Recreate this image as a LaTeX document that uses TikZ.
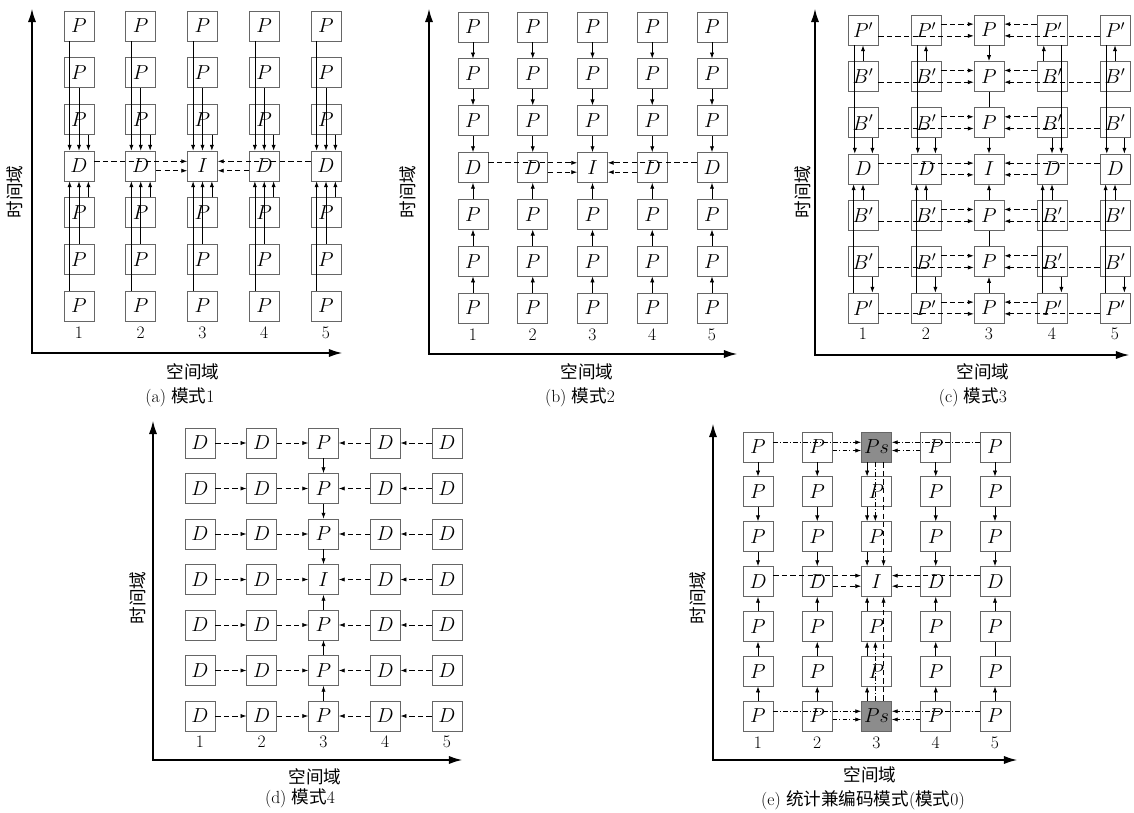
\documentclass[tikz,border=0pt]{standalone}
\usepackage{fontspec}
\newfontfamily\cjk{Noto Sans CJK SC}
\usetikzlibrary{arrows.meta}

\begin{document}
\begin{tikzpicture}[x=0.03cm,y=-0.03cm,>={Latex[length=5pt,width=3.6pt]},
  cell/.style={draw=black!60,line width=0.6pt,minimum size=0.9cm,
    inner sep=0pt,font=\fontsize{16.5}{18}\selectfont},
  psbox/.style={cell,fill=black!45},
  lnk/.style={->,line width=0.6pt},
  dsh/.style={->,line width=0.6pt,dash pattern=on 4.5pt off 2.8pt},
  dsd/.style={->,line width=0.6pt,
    dash pattern=on 4pt off 1.8pt on 0.9pt off 1.8pt},
  axisline/.style={line width=2pt,
    {Latex[length=12pt,width=7pt]}-{Latex[length=12pt,width=7pt]}},
  num/.style={font=\fontsize{15}{17}\selectfont},
  lab/.style={font=\fontsize{15}{17}\selectfont\cjk},
  captext/.style={font=\fontsize{15}{17}\selectfont}]
\useasboundingbox (0,0) rectangle (1134,813);

% (a) mode 1
\coordinate (a-o) at (32,353);
\coordinate (a-x) at (343,353);
\coordinate (a-y) at (32,8);
\draw[axisline] (a-y) -- (a-o) -- (a-x);
\foreach \c in {1,...,5}{
  \pgfmathsetmacro{\xx}{79+61.75*(\c-1)}
  \foreach \r in {1,...,7}{
    \pgfmathsetmacro{\yy}{26+46.67*(\r-1)}
    \node[cell] (a\c\r) at (\xx,\yy)
      {\ifnum\r=4 \ifnum\c=3 $I$\else $D$\fi\else $P$\fi};
  }
  \node[num] (a-n\c) at (\xx,333) {\c};
}
\foreach \c in {1,...,5}{
  \draw[lnk] ([xshift=-8pt]a\c1.south) -- ([xshift=-8pt]a\c4.north);
  \draw[lnk] (a\c2.south) -- (a\c4.north);
  \draw[lnk] ([xshift=8pt]a\c3.south) -- ([xshift=8pt]a\c4.north);
  \draw[lnk] ([xshift=-8pt]a\c7.north) -- ([xshift=-8pt]a\c4.south);
  \draw[lnk] (a\c6.north) -- (a\c4.south);
  \draw[lnk] ([xshift=8pt]a\c5.north) -- ([xshift=8pt]a\c4.south);
}
\draw[dsh] ([yshift=4pt]a14.east) -- ([yshift=4pt]a34.west);
\draw[dsh] ([yshift=-4pt]a24.east) -- ([yshift=-4pt]a34.west);
\draw[dsh] ([yshift=4pt]a54.west) -- ([yshift=4pt]a34.east);
\draw[dsh] ([yshift=-4pt]a44.west) -- ([yshift=-4pt]a34.east);
\node[lab] (a-xl) at (193,372) {空间域};
\node[lab,rotate=90] (a-yl) at (15,192) {时间域};
\node[captext] (a-cap) at (180,397) {(a)\ {\cjk 模式}1};

% (b) mode 2
\coordinate (b-o) at (429,354);
\coordinate (b-x) at (738,354);
\coordinate (b-y) at (429,8);
\draw[axisline] (b-y) -- (b-o) -- (b-x);
\foreach \c in {1,...,5}{
  \pgfmathsetmacro{\xx}{473+59.75*(\c-1)}
  \foreach \r in {1,...,7}{
    \pgfmathsetmacro{\yy}{27+46.83*(\r-1)}
    \node[cell] (b\c\r) at (\xx,\yy)
      {\ifnum\r=4 \ifnum\c=3 $I$\else $D$\fi\else $P$\fi};
  }
  \node[num] (b-n\c) at (\xx,335) {\c};
  \draw[lnk] (b\c1) -- (b\c2);
  \draw[lnk] (b\c2) -- (b\c3);
  \draw[lnk] (b\c3) -- (b\c4);
  \draw[lnk] (b\c7) -- (b\c6);
  \draw[lnk] (b\c6) -- (b\c5);
  \draw[lnk] (b\c5) -- (b\c4);
}
\draw[dsh] ([yshift=4pt]b14.east) -- ([yshift=4pt]b34.west);
\draw[dsh] ([yshift=-4pt]b24.east) -- ([yshift=-4pt]b34.west);
\draw[dsh] ([yshift=4pt]b54.west) -- ([yshift=4pt]b34.east);
\draw[dsh] ([yshift=-4pt]b44.west) -- ([yshift=-4pt]b34.east);
\node[lab] (b-xl) at (587,372) {空间域};
\node[lab,rotate=90] (b-yl) at (408,192) {时间域};
\node[captext] (b-cap) at (580,397) {(b)\ {\cjk 模式}2};

% (c) mode 3
\coordinate (c-o) at (815,355);
\coordinate (c-x) at (1130,355);
\coordinate (c-y) at (815,8);
\draw[axisline] (c-y) -- (c-o) -- (c-x);
\foreach \c in {1,...,5}{
  \pgfmathsetmacro{\xx}{863+63*(\c-1)}
  \foreach \r/\side in {1/P',2/B',3/B',4/D,5/B',6/B',7/P'}{
    \pgfmathsetmacro{\yy}{30+46.33*(\r-1)}
    \node[cell] (c\c\r) at (\xx,\yy)
      {\ifnum\c=3 \ifnum\r=4 $I$\else $P$\fi\else $\side$\fi};
  }
  \node[num] (c-n\c) at (\xx,334) {\c};
}
\draw[lnk] (c31) -- (c32);
\draw[line width=0.6pt] (c32) -- (c33);
\draw[lnk] (c33) -- (c34);
\draw[lnk] (c37) -- (c36);
\draw[line width=0.6pt] (c36) -- (c35);
\draw[lnk] (c35) -- (c34);
\foreach \c in {1,2,5}{
  \draw[lnk] ([xshift=-7pt]c\c1.south) -- ([xshift=-7pt]c\c4.north);
  \draw[lnk] (c\c2) -- (c\c1);
  \draw[lnk] ([xshift=8pt]c\c3.south) -- ([xshift=8pt]c\c4.north);
}
\draw[lnk] ([xshift=-7pt]c42.north) -- ([xshift=-7pt]c41.south);
\draw[lnk] (c43) -- (c44);
\draw[lnk] ([xshift=8pt]c41.south) -- ([xshift=8pt]c44.north);
\foreach \c in {1,2,4,5}{
  \draw[lnk] ([xshift=-8pt]c\c7.north) -- ([xshift=-8pt]c\c4.south);
  \draw[lnk] (c\c5) -- (c\c4);
  \draw[lnk] ([xshift=8pt]c\c6.south) -- ([xshift=8pt]c\c7.north);
}
\foreach \r/\u/\l in {1/2/1,2/2/1,3/2/1,4/1/2,5/2/1,6/2/1,7/2/1}{
  \pgfmathtruncatemacro{\ru}{6-\u}
  \pgfmathtruncatemacro{\rl}{6-\l}
  \draw[dsh] ([yshift=5pt]c\u\r.east) -- ([yshift=5pt]c3\r.west);
  \draw[dsh] ([yshift=-5pt]c\l\r.east) -- ([yshift=-5pt]c3\r.west);
  \draw[dsh] ([yshift=5pt]c\ru\r.west) -- ([yshift=5pt]c3\r.east);
  \draw[dsh] ([yshift=-5pt]c\rl\r.west) -- ([yshift=-5pt]c3\r.east);
}
\node[lab] (c-xl) at (983,372) {空间域};
\node[lab,rotate=90] (c-yl) at (803,192) {时间域};
\node[captext] (c-cap) at (973,397) {(c)\ {\cjk 模式}3};

% (d) mode 4
\coordinate (d-o) at (153,760);
\coordinate (d-x) at (463,760);
\coordinate (d-y) at (153,420);
\draw[axisline] (d-y) -- (d-o) -- (d-x);
\foreach \c in {1,...,5}{
  \pgfmathsetmacro{\xx}{200+61.75*(\c-1)}
  \foreach \r in {1,...,7}{
    \pgfmathsetmacro{\yy}{443+45.5*(\r-1)}
    \node[cell] (d\c\r) at (\xx,\yy)
      {\ifnum\c=3 \ifnum\r=4 $I$\else $P$\fi\else $D$\fi};
  }
  \node[num] (d-n\c) at (\xx,742) {\c};
}
\foreach \r in {1,...,7}{
  \draw[dsh] (d1\r) -- (d2\r);
  \draw[dsh] (d2\r) -- (d3\r);
  \draw[dsh] (d5\r) -- (d4\r);
  \draw[dsh] (d4\r) -- (d3\r);
}
\draw[lnk] (d31) -- (d32);
\draw[lnk] (d32) -- (d33);
\draw[lnk] (d33) -- (d34);
\draw[lnk] (d37) -- (d36);
\draw[lnk] (d36) -- (d35);
\draw[lnk] (d35) -- (d34);
\node[lab] (d-xl) at (315,777) {空间域};
\node[lab,rotate=90] (d-yl) at (138,598) {时间域};
\node[captext] (d-cap) at (300,798) {(d)\ {\cjk 模式}4};

% (e) mode 0
\coordinate (e-o) at (713,760);
\coordinate (e-x) at (1018,760);
\coordinate (e-y) at (713,423);
\draw[axisline] (e-y) -- (e-o) -- (e-x);
\foreach \c in {1,...,5}{
  \pgfmathsetmacro{\xx}{758+59.25*(\c-1)}
  \node[num] (e-n\c) at (\xx,743) {\c};
  \ifnum\c=3
    \foreach \r/\lab/\st in {1/Ps/psbox,2/P/cell,3/P/cell,4/I/cell,
                            5/P/cell,6/P/cell,7/Ps/psbox}{
      \pgfmathsetmacro{\yy}{447+44.83*(\r-1)}
      \node[\st] (e\c\r) at (\xx,\yy) {$\lab$};
    }
  \else
    \foreach \r in {1,...,7}{
      \pgfmathsetmacro{\yy}{447+44.83*(\r-1)}
      \node[cell] (e\c\r) at (\xx,\yy) {\ifnum\r=4 $D$\else $P$\fi};
    }
  \fi
}
\foreach \c in {1,2,4,5}{
  \draw[lnk] (e\c1) -- (e\c2);
  \draw[lnk] (e\c2) -- (e\c3);
  \draw[lnk] (e\c3) -- (e\c4);
  \draw[lnk] (e\c7) -- (e\c6);
  \draw[lnk] (e\c5) -- (e\c4);
}
\foreach \c in {1,2,4}
  \draw[lnk] (e\c6) -- (e\c5);
\draw[line width=0.6pt] (e56) -- (e55);
\draw[lnk] ([xshift=-8pt]e31.south) -- ([xshift=-8pt]e32.north);
\draw[lnk] ([xshift=-8pt]e32.south) -- ([xshift=-8pt]e33.north);
\draw[lnk] ([xshift=-8pt]e33.south) -- ([xshift=-8pt]e34.north);
\draw[dsd] ([xshift=-1pt]e31.south) -- ([xshift=-1pt]e33.north);
\draw[dsh] ([xshift=6pt]e31.south) -- ([xshift=6pt]e34.north);
\draw[lnk] ([xshift=-8pt]e37.north) -- ([xshift=-8pt]e36.south);
\draw[lnk] ([xshift=-8pt]e36.north) -- ([xshift=-8pt]e35.south);
\draw[lnk] ([xshift=-8pt]e35.north) -- ([xshift=-8pt]e34.south);
\draw[dsd] ([xshift=-1pt]e37.north) -- ([xshift=-1pt]e35.south);
\draw[dsh] ([xshift=6pt]e37.north) -- ([xshift=6pt]e34.south);
\foreach \r in {1,7}{
  \draw[dsd] ([yshift=4pt]e1\r.east) -- ([yshift=4pt]e3\r.west);
  \draw[dsd] ([yshift=-3pt]e2\r.east) -- ([yshift=-3pt]e3\r.west);
  \draw[dsd] ([yshift=4pt]e5\r.west) -- ([yshift=4pt]e3\r.east);
  \draw[dsd] ([yshift=-3pt]e4\r.west) -- ([yshift=-3pt]e3\r.east);
}
\draw[dsh] ([yshift=5pt]e14.east) -- ([yshift=5pt]e34.west);
\draw[dsh] ([yshift=-4pt]e24.east) -- ([yshift=-4pt]e34.west);
\draw[dsh] ([yshift=5pt]e54.west) -- ([yshift=5pt]e34.east);
\draw[dsh] ([yshift=-4pt]e44.west) -- ([yshift=-4pt]e34.east);
\node[lab] (e-xl) at (870,775) {空间域};
\node[lab,rotate=90] (e-yl) at (698,598) {时间域};
\node[captext] (e-cap) at (863,800)
  {(e)\ {\cjk 统计兼编码模式}({\cjk 模式}0)};
\end{tikzpicture}
\end{document}
